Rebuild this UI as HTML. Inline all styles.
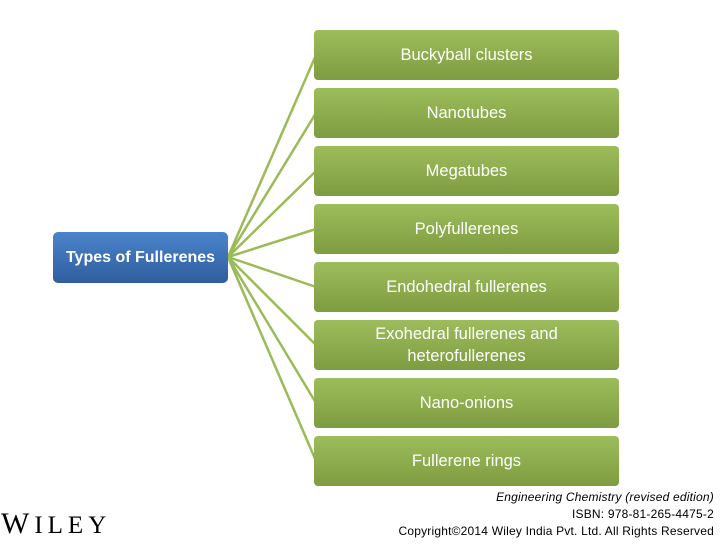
<!DOCTYPE html>
<html><head><style>
body{margin:0;width:720px;height:540px;background:#fff;position:relative;overflow:hidden;font-family:"Liberation Sans",sans-serif}
.b{position:absolute;left:314px;width:305px;height:50px;border-radius:4px;background:linear-gradient(#9dbd5c,#7e9c40);color:#fff;font-size:16.5px;display:flex;align-items:center;justify-content:center;text-align:center;line-height:22px}
.m{position:absolute;left:53px;top:232px;width:175px;height:51px;border-radius:5px;background:linear-gradient(#4b84cc,#2f5e9e);color:#fff;font-weight:bold;font-size:16px;display:flex;align-items:center;justify-content:center}
.f{position:absolute;right:6px;font-size:12px;color:#000;text-align:right;letter-spacing:0.2px}
</style></head><body>
<svg width="720" height="540" style="position:absolute;left:0;top:0">
<g stroke="#9bbb59" stroke-width="2.5" fill="none">
<line x1="228" y1="257" x2="316" y2="55"/>
<line x1="228" y1="257" x2="316" y2="113"/>
<line x1="228" y1="257" x2="316" y2="171"/>
<line x1="228" y1="257" x2="316" y2="229"/>
<line x1="228" y1="257" x2="316" y2="287"/>
<line x1="228" y1="257" x2="316" y2="345"/>
<line x1="228" y1="257" x2="316" y2="403"/>
<line x1="228" y1="257" x2="316" y2="461"/>
</g></svg>
<div class="b" style="top:30px">Buckyball clusters</div>
<div class="b" style="top:88px">Nanotubes</div>
<div class="b" style="top:146px">Megatubes</div>
<div class="b" style="top:204px">Polyfullerenes</div>
<div class="b" style="top:262px">Endohedral fullerenes</div>
<div class="b" style="top:320px">Exohedral fullerenes and<br>heterofullerenes</div>
<div class="b" style="top:378px">Nano-onions</div>
<div class="b" style="top:436px">Fullerene rings</div>
<div class="m">Types of Fullerenes</div>
<div style="position:absolute;left:1px;top:506px;font-family:'Liberation Serif',serif;font-size:30px;letter-spacing:5px;line-height:36px">W<span style="font-size:25px">ILEY</span></div>
<div class="f" style="top:490px;font-style:italic">Engineering Chemistry (revised edition)</div>
<div class="f" style="top:507px">ISBN: 978-81-265-4475-2</div>
<div class="f" style="top:524px">Copyright©2014 Wiley India Pvt. Ltd. All Rights Reserved</div>
</body></html>
